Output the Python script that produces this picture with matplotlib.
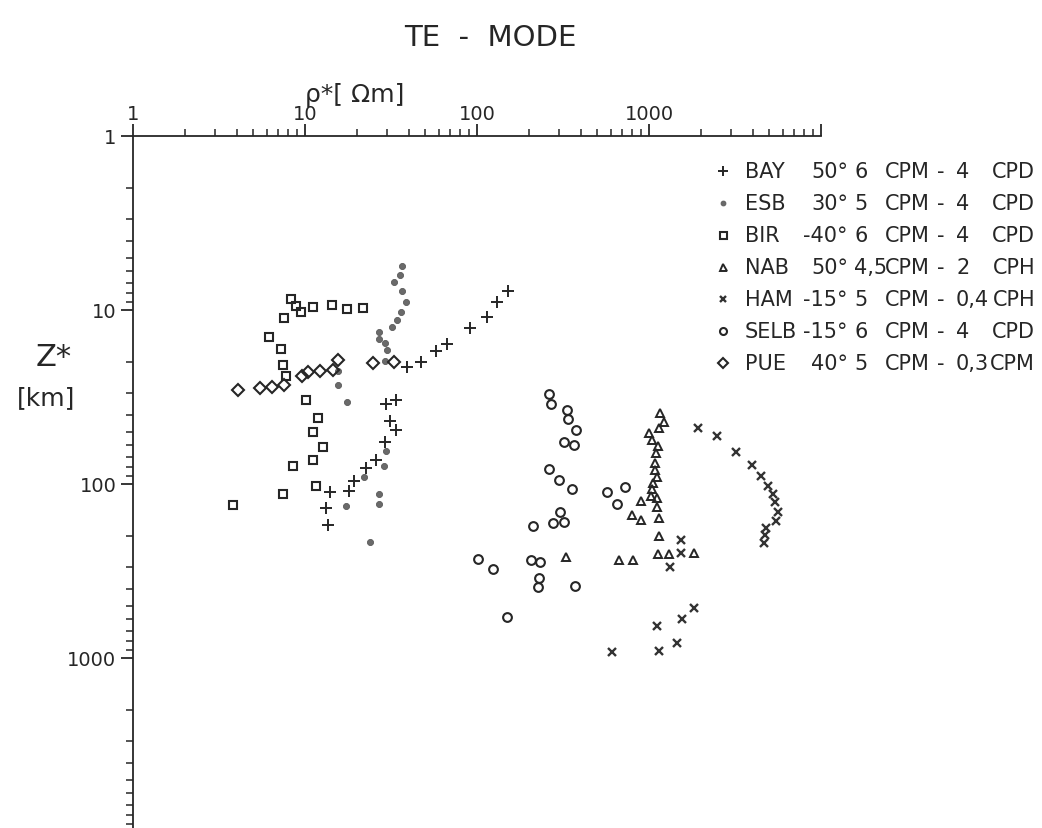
import matplotlib
matplotlib.use('Agg')
import matplotlib.pyplot as plt
from matplotlib.ticker import FixedLocator, LogLocator, NullFormatter, FixedFormatter

# apparent resistivity rho* [Ohm m] and depth z* [km] per station
bay_rho = [151, 131, 114, 91, 67, 58, 47, 39, 34, 29.6, 31.2, 33.8, 29.2, 25.9, 22.6, 19.3, 18.0, 14.0, 13.3, 13.6]
bay_z = [7.8, 9.0, 11.0, 12.7, 15.7, 17.2, 19.9, 21.3, 32.9, 34.7, 43.5, 49, 57.4, 72.8, 80.9, 96, 110, 111, 137, 172]

esb_rho = [36.6, 35.7, 32.9, 36.6, 38.7, 36.2, 34.3, 32.1, 26.9, 26.9, 29.2, 30.0, 29.2, 15.6, 15.6, 17.5,
           29.6, 28.8, 22.0, 26.9, 26.9, 17.3, 23.9]
esb_z = [5.6, 6.3, 6.9, 7.8, 9.0, 10.3, 11.4, 12.5, 13.4, 14.7, 15.5, 17.0, 19.6, 22.4, 27.0, 33.8,
         64.6, 78.8, 91, 114, 130, 134, 215]

bir_rho = [8.3, 8.9, 9.5, 11.1, 14.4, 17.5, 21.7, 7.5, 6.2, 7.3, 7.4, 7.8, 10.1, 11.9, 11.1, 12.7, 11.1,
           8.5, 11.6, 7.4, 3.8]
bir_z = [8.6, 9.5, 10.3, 9.6, 9.4, 9.9, 9.7, 11.1, 14.3, 16.8, 20.7, 23.9, 32.9, 41.8, 50.3, 61.3, 72.8,
         78.8, 103, 114, 132]

nab_rho = [1158, 1222, 1143, 1000, 1041, 1128, 1098, 1083, 1083, 1113, 1055, 1041, 1027, 1113, 898, 1113,
           796, 898, 1143, 1143, 669, 807, 1128, 1307, 1827, 329]
nab_z = [39.1, 44.0, 47.7, 50.9, 55.9, 60.5, 66.3, 75.7, 83.1, 91.2, 98.7, 107, 117, 120, 125, 136,
         151, 161, 157, 199, 273, 273, 253, 253, 249, 263]

ham_rho = [1927, 2484, 3206, 3970, 4478, 4918, 5260, 5405, 5623, 5475, 4786, 4723, 4664, 1535, 1535, 1324,
           1827, 1556, 1113, 1455, 1143, 609]
ham_z = [47.7, 53, 65.5, 77.8, 90, 103, 114, 127, 145, 163, 179, 196, 218, 210, 249, 300,
         516, 597, 655, 820, 912, 924]

selb_rho = [262, 269, 334, 338, 376, 320, 366, 262, 300, 357, 570, 725, 651, 304, 277, 320, 212,
            101, 124, 206, 232, 229, 226, 371, 149]
selb_z = [30.4, 34.7, 37.6, 42.3, 49, 57.4, 59.7, 82, 94.8, 107, 111, 104, 130, 145, 168, 165, 174,
          270, 308, 273, 281, 347, 391, 386, 581]

pue_rho = [4.1, 5.5, 6.4, 7.5, 9.6, 10.4, 12.2, 14.5, 15.6, 24.9, 32.9]
pue_z = [28.8, 28.1, 27.7, 27.0, 23.9, 22.7, 22.4, 22.1, 19.4, 20.2, 19.9]

# legend rows: name, angle, lower limit (number + unit), upper limit (number + unit)
leg_names = ['BAY', 'ESB', 'BIR', 'NAB', 'HAM', 'SELB', 'PUE']
leg_angles = ['50°', '30°', '-40°', '50°', '-15°', '-15°', '40°']
low_num = ['6', '5', '6', '4,5', '5', '6', '5']
high_num = ['4', '4', '4', '2', '0,4', '4', '0,3']
high_unit = ['CPD', 'CPD', 'CPD', 'CPH', 'CPH', 'CPD', 'CPM']

ink = '#262626'
styles = [
    dict(marker='+', ms=8.5, mew=1.4, color=ink),
    dict(marker='o', ms=4.4, mew=0.6, color='#5a5a5a', mfc='#6a6a6a'),
    dict(marker='s', ms=6.3, mew=1.5, color=ink, mfc='none'),
    dict(marker='^', ms=6.3, mew=1.4, color=ink, mfc='none'),
    dict(marker='x', ms=5.3, mew=1.7, color='#333333'),
    dict(marker='o', ms=6.3, mew=1.5, color=ink, mfc='none'),
    dict(marker='D', ms=6.3, mew=1.5, color=ink, mfc='none'),
]
series = [(bay_rho, bay_z), (esb_rho, esb_z), (bir_rho, bir_z), (nab_rho, nab_z),
          (ham_rho, ham_z), (selb_rho, selb_z), (pue_rho, pue_z)]

fig = plt.figure(figsize=(10.42, 8.29), dpi=100)
W, H = 1042.0, 829.0
ax = fig.add_axes([133 / W, (H - 833) / H, 688 / W, 696 / H])

for (xs, ys), st in zip(series, styles):
    ax.plot(xs, ys, ls='none', clip_on=False, **st)

ax.set_xscale('log')
ax.set_yscale('log')
ax.set_xlim(1, 1e4)
ax.set_ylim(1e4, 1)

for s in ['right', 'bottom']:
    ax.spines[s].set_visible(False)
for s in ['top', 'left']:
    ax.spines[s].set_linewidth(1.3)
    ax.spines[s].set_color(ink)

ax.xaxis.set_ticks_position('top')
ax.xaxis.set_label_position('top')
ax.xaxis.set_major_locator(FixedLocator([1, 10, 100, 1000, 10000]))
ax.xaxis.set_major_formatter(FixedFormatter(['1', '10', '100', '1000', '']))
ax.yaxis.set_major_locator(FixedLocator([1, 10, 100, 1000]))
ax.yaxis.set_major_formatter(FixedFormatter(['1', '10', '100', '1000']))
for a in (ax.xaxis, ax.yaxis):
    a.set_minor_locator(LogLocator(base=10, subs=range(2, 10)))
    a.set_minor_formatter(NullFormatter())
ax.tick_params(which='major', direction='out', length=9, width=1.3, color=ink,
               labelsize=14, labelcolor=ink)
ax.tick_params(axis='x', which='major', pad=0)
ax.tick_params(axis='y', which='major', pad=3)
ax.tick_params(which='minor', direction='out', length=5, width=1.1, color=ink)

fig.text(490 / W, 1 - 38 / H, 'TE  -  MODE', ha='center', va='center', fontsize=21, color=ink)
fig.text(355 / W, 1 - 95 / H, 'ρ*[ Ωm]', ha='center', va='center', fontsize=18, color=ink)
fig.text(54 / W, 1 - 358 / H, 'Z*', ha='center', va='center', fontsize=22, color=ink)
fig.text(46 / W, 1 - 398 / H, '[km]', ha='center', va='center', fontsize=18, color=ink)

# legend block
row0, dy = 172, 32
fs = 15
for i, st in enumerate(styles):
    yy = 1 - (row0 + i * dy) / H
    lst = dict(st)
    lst['ms'] = st['ms'] * 0.8
    fig.add_artist(plt.Line2D([723 / W], [yy], ls='none', transform=fig.transFigure, **lst))
    fig.text(745 / W, yy, leg_names[i], ha='left', va='center', fontsize=fs, color=ink)
    fig.text(848 / W, yy, leg_angles[i], ha='right', va='center', fontsize=fs, color=ink)
    fig.text(854 / W, yy, low_num[i], ha='left', va='center', fontsize=fs, color=ink)
    fig.text(930 / W, yy, 'CPM', ha='right', va='center', fontsize=fs, color=ink)
    fig.text(937 / W, yy, '-', ha='left', va='center', fontsize=fs, color=ink)
    fig.text(956 / W, yy, high_num[i], ha='left', va='center', fontsize=fs, color=ink)
    fig.text(1035 / W, yy, high_unit[i], ha='right', va='center', fontsize=fs, color=ink)

fig.savefig('out.png', dpi=100, facecolor='white')
